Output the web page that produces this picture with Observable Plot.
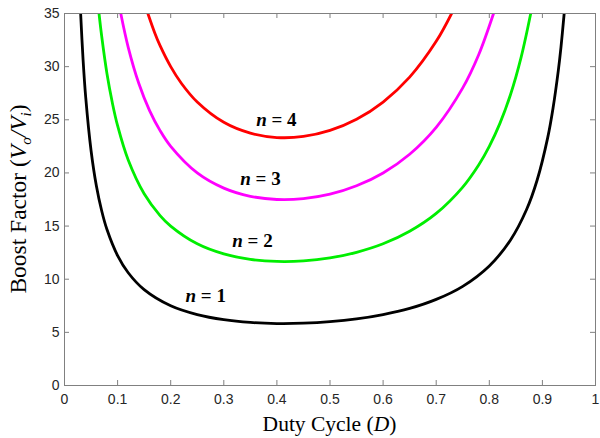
<!DOCTYPE html>
<html>
<head>
<meta charset="utf-8">
<script src="https://cdn.jsdelivr.net/npm/d3@7"></script>
<script src="https://cdn.jsdelivr.net/npm/@observablehq/plot@0.6"></script>
<style>
  html, body { margin: 0; padding: 0; background: #fff; }
</style>
</head>
<body>
<div id="chart"></div>
<script>
// ---- Data ----
const xTicks = [0, 0.1, 0.2, 0.3, 0.4, 0.5, 0.6, 0.7, 0.8, 0.9, 1];
const yTicks = [0, 5, 10, 15, 20, 25, 30, 35];

const dutyN1  = [0.0304, 0.035, 0.04, 0.05, 0.06, 0.07, 0.08, 0.10, 0.12, 0.15, 0.20, 0.25, 0.30, 0.35, 0.40, 0.45, 0.50, 0.55, 0.60, 0.65, 0.70, 0.75, 0.80, 0.84, 0.87, 0.89, 0.91, 0.92, 0.93, 0.935, 0.941];
const boostN1 = [35, 30.64, 27.08, 22.11, 18.79, 16.44, 14.67, 12.22, 10.61, 9.02, 7.50, 6.67, 6.19, 5.93, 5.83, 5.86, 6.00, 6.26, 6.67, 7.25, 8.10, 9.33, 11.25, 13.69, 16.53, 19.31, 23.32, 26.09, 29.65, 31.84, 35];

const dutyN2  = [0.065, 0.07, 0.08, 0.09, 0.10, 0.12, 0.15, 0.18, 0.20, 0.25, 0.30, 0.35, 0.40, 0.45, 0.50, 0.55, 0.60, 0.65, 0.70, 0.75, 0.78, 0.80, 0.82, 0.84, 0.86, 0.878];
const boostN2 = [35, 32.88, 29.33, 26.62, 24.44, 21.21, 18.04, 15.99, 15.00, 13.33, 12.38, 11.87, 11.67, 11.72, 12.00, 12.53, 13.33, 14.51, 16.19, 18.67, 20.75, 22.50, 24.66, 27.38, 30.90, 35];

const dutyN3  = [0.106, 0.12, 0.14, 0.16, 0.18, 0.20, 0.25, 0.30, 0.35, 0.40, 0.45, 0.50, 0.55, 0.60, 0.65, 0.70, 0.75, 0.78, 0.808];
const boostN3 = [35, 31.82, 28.41, 25.89, 23.98, 22.50, 20.00, 18.57, 17.80, 17.50, 17.58, 18.00, 18.79, 20.00, 21.76, 24.29, 28.00, 31.12, 35];

const dutyN4  = [0.157, 0.17, 0.18, 0.20, 0.22, 0.25, 0.30, 0.35, 0.40, 0.45, 0.50, 0.55, 0.60, 0.65, 0.70, 0.729];
const boostN4 = [35, 33.17, 31.97, 30.00, 28.44, 26.67, 24.76, 23.74, 23.33, 23.43, 24.00, 25.05, 26.67, 29.01, 32.38, 35];

const seriesNames  = ["n = 1", "n = 2", "n = 3", "n = 4"];
const seriesColors = ["#000000", "#00ee00", "#ff00ff", "#ff0000"];
const labelDuty  = [0.266, 0.354, 0.369, 0.399];
const labelBoost = [7.84, 13.0, 18.9, 24.46];

// ---- Build tables ----
const dutyAll  = [dutyN1, dutyN2, dutyN3, dutyN4];
const boostAll = [boostN1, boostN2, boostN3, boostN4];
const lines = seriesNames.map((name, i) =>
  dutyAll[i].map((d, j) => ({D: d, B: boostAll[i][j], n: name}))
);
const labels = seriesNames.map((name, i) => ({D: labelDuty[i], B: labelBoost[i], text: name}));

const W = 600, H = 438;
const mL = 64, mR = 5, mT = 13, mB = 53;
const plotH = H - mT - mB, plotW = W - mL - mR;
const tick = 5;
const axisGray = "#808080";

const chart = Plot.plot({
  width: W, height: H,
  marginLeft: mL, marginRight: mR, marginTop: mT, marginBottom: mB,
  style: {fontFamily: "'Liberation Sans', Arial, sans-serif", fontSize: "14px", color: "#262626", background: "#fff", overflow: "visible"},
  x: {domain: [0, 1]},
  y: {domain: [0, 35]},
  marks: [
    // inward ticks (MATLAB box style)
    Plot.ruleX(xTicks, {x: d => d, insetTop: plotH - tick, stroke: axisGray}),
    Plot.ruleX(xTicks, {x: d => d, insetBottom: plotH - tick, stroke: axisGray}),
    Plot.ruleY(yTicks, {y: d => d, insetRight: plotW - tick, stroke: axisGray}),
    Plot.ruleY(yTicks, {y: d => d, insetLeft: plotW - tick, stroke: axisGray}),
    Plot.axisX({ticks: xTicks, tickSize: 0, tickPadding: 9, tickFormat: d => String(d), label: null, fill: "#262626"}),
    Plot.axisY({ticks: yTicks, tickSize: 0, tickPadding: 5, tickFormat: d => String(d), label: null, fill: "#262626"}),
    ...lines.map((data, i) => Plot.line(data, {x: "D", y: "B", stroke: seriesColors[i], strokeWidth: 2.8, curve: "catmull-rom", clip: true})),
    Plot.frame({stroke: axisGray}),
    Plot.text(labels, {x: "D", y: "B", text: "text", textAnchor: "middle", lineAnchor: "bottom", fontFamily: "'Liberation Serif', 'Times New Roman', serif", fontSize: 19, fontWeight: "bold", fill: "#000"})
  ]
});

document.getElementById("chart").appendChild(chart);

// Italicize "n" in the curve labels
const svg = d3.select(chart);
svg.selectAll("text").each(function() {
  const t = d3.select(this);
  const s = t.text();
  const m = /^n( = \d)$/.exec(s);
  if (m && this.childElementCount === 0) {
    t.text(null);
    t.append("tspan").attr("font-style", "italic").text("n");
    t.append("tspan").text(m[1]);
  }
});

// Axis titles with italic symbols and subscripts
const serif = "'Liberation Serif', 'Times New Roman', serif";
const xl = svg.append("text")
  .attr("x", mL + plotW / 2).attr("y", 431)
  .attr("text-anchor", "middle")
  .attr("font-family", serif).attr("font-size", 21.5).attr("fill", "#000");
xl.append("tspan").text("Duty Cycle (");
xl.append("tspan").attr("font-style", "italic").text("D");
xl.append("tspan").text(")");

const yl = svg.append("text")
  .attr("transform", `translate(${26}, ${mT + plotH / 2}) rotate(-90)`)
  .attr("text-anchor", "middle")
  .attr("font-family", serif).attr("font-size", 23.5).attr("fill", "#000");
yl.append("tspan").text("Boost Factor (");
yl.append("tspan").attr("font-style", "italic").text("V");
yl.append("tspan").attr("font-style", "italic").attr("font-size", 15).attr("dy", 5).text("o");
yl.append("tspan").attr("font-style", "italic").attr("dy", -5).text("/");
yl.append("tspan").attr("font-style", "italic").text("V");
yl.append("tspan").attr("font-style", "italic").attr("font-size", 15).attr("dy", 5).text("i");
yl.append("tspan").attr("dy", -5).text(")");
</script>
</body>
</html>
